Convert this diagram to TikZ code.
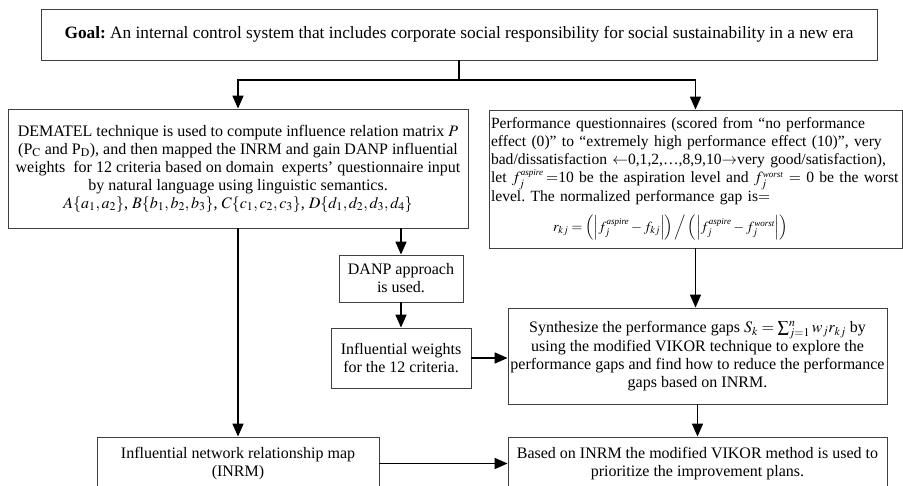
\documentclass[tikz,border=0pt]{standalone}
\usepackage{mathptmx}
\usepackage[no-math]{fontspec}
\setmainfont{Liberation Serif}
\usetikzlibrary{arrows.meta, positioning, calc}
\frenchspacing
\newcommand{\supx}[1]{\mbox{\fontsize{9}{9}\selectfont\itshape #1}}

\begin{document}
\begin{tikzpicture}[
  x=1pt, y=-1pt,
  box/.style={draw=black!75, line width=0.9pt, rectangle, align=center,
              font=\fontsize{16}{18}\selectfont, inner sep=2pt},
  arr/.style={-{Triangle[length=13pt, width=11pt]}, line width=1.7pt},
  conn/.style={-, line width=1.7pt},
]
\clip (0,0) rectangle (903,485);
\node[box, minimum width=836pt, minimum height=51pt, font=\fontsize{17.3}{18}\selectfont] (goal) at (459,34.5)
  {\textbf{Goal:} An internal control system that includes corporate social responsibility for social sustainability in a new era};
\node[box, minimum width=460pt, minimum height=119pt] (dem) at (238,168.5) {
  DEMATEL technique is used to compute influence relation matrix $P$\\
  (P$_{\mathrm{C}}$ and P$_{\mathrm{D}}$), and then mapped the INRM and gain DANP influential\\
  weights\ \ for 12 criteria based on domain\ \ experts' questionnaire input\\
  by natural language using linguistic semantics.\\
  $A\{a_1,a_2\}$, $B\{b_1,b_2,b_3\}$, $C\{c_1,c_2,c_3\}$, $D\{d_1,d_2,d_3,d_4\}$
};
\node[box, minimum width=413pt, minimum height=138pt, text width=409pt, align=left] (perf) at (695.5,179) {
  \fontsize{15.6}{18}\selectfont
  Performance questionnaires (scored from “no performance\\
  effect (0)” to “extremely high performance effect (10)”, very\\
  bad/dissatisfaction $\leftarrow$0,1,2,\ldots,8,9,10$\rightarrow$very good/satisfaction),\\
  \mbox{let $f_j^{\supx{aspire}}$\,$=$10 be the aspiration level and $f_j^{\supx{worst}}$ $=$ 0 be the worst}\\
  level. The normalized performance gap is$=$\\[9pt]
  \hspace*{62pt}{\fontsize{14}{15}\selectfont$r_{kj}=\left(\left|f_j^{\supx{aspire}}-f_{kj}\right|\right)\Big/\left(\left|f_j^{\supx{aspire}}-f_j^{\supx{worst}}\right|\right)$}
};
\node[box, minimum width=124pt, minimum height=47pt] (danp) at (401,278.5) {DANP approach\\is used.};
\node[box, minimum width=140pt, minimum height=60pt] (iw) at (401,358) {Influential weights\\for the 12 criteria.};
\node[box, minimum width=379pt, minimum height=96pt] (syn) at (697.5,356) {
  Synthesize the performance gaps $S_k=\sum\nolimits_{j=1}^{n} w_j r_{kj}$ by\\
  using the modified VIKOR technique to explore the\\
  performance gaps and find how to reduce the performance\\
  gaps based on INRM.
};
\node[box, minimum width=282pt, minimum height=53pt] (inrm) at (238,463.5) {Influential network relationship map\\(INRM)};
\node[box, minimum width=379pt, minimum height=53pt] (bi) at (697.5,463.5) {Based on INRM the modified VIKOR method is used to\\prioritize the improvement plans.};
\coordinate (split) at (459,80);
%% connectors
\draw[conn] (goal.south) -- (split);
\draw[arr] (split) -| (dem.north);
\draw[arr] (split) -| (perf.north);
\draw[arr] (dem.south -| danp.north) -- (danp.north);
\draw[arr] (dem.south) -- (inrm.north);
\draw[arr] (danp.south) -- (iw.north);
\draw[arr] (iw.east) -- (iw.east -| syn.west);
\draw[arr] (perf.south) -- (perf.south |- syn.north);
\draw[arr] (syn.south) -- (bi.north);
\draw[arr] (inrm.east) -- (bi.west);
\end{tikzpicture}
\end{document}
